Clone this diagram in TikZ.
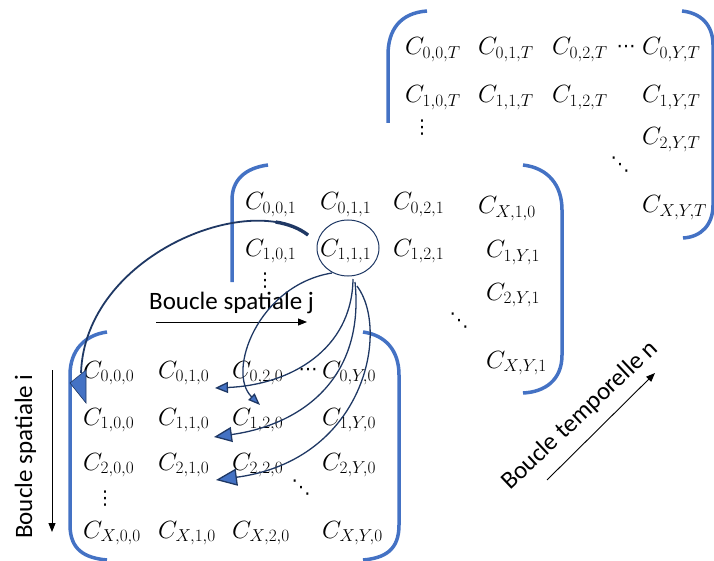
\documentclass[tikz,border=0pt]{standalone}
\usepackage{fontspec}
\newfontfamily\calfont{Carlito}
\newfontfamily\djv{DejaVu Sans}
\usetikzlibrary{arrows.meta,shapes.geometric}
\definecolor{bblue}{HTML}{4472C4}
\definecolor{navy}{HTML}{1F3864}
\begin{document}
\begin{tikzpicture}[x=1pt,y=-1pt,
  cell/.style={inner sep=0pt, anchor=base west, font=\fontsize{25}{30}\selectfont},
  dotsn/.style={inner sep=0pt, font=\djv\fontsize{19}{19}\selectfont},
  brk/.style={draw=bblue, line width=3.5pt},
  looplabel/.style={inner sep=0pt, anchor=base west, font=\calfont\fontsize{25}{30}\selectfont},
  blk/.style={draw=black, line width=0.9pt, -{Triangle[length=9pt,width=7pt]}},
  conn/.style={draw=navy, line width=1.3pt},
]
\useasboundingbox (0,0) rectangle (714,561);

% ---------- brackets ----------
\draw[brk] (427,11) .. controls (400,13) and (388,30) .. (388,55) -- (388,123);
\draw[brk] (682,11) .. controls (701,13) and (713,25) .. (713,45) -- (713,205) .. controls (713,225) and (701,237) .. (683,238);
\draw[brk] (268,165) .. controls (245,168) and (232,180) .. (232,200) -- (232,282);
\draw[brk] (523,165) .. controls (548,168) and (562,185) .. (562,210) -- (562,355) .. controls (562,380) and (545,392) .. (523,393);
\draw[brk] (107,332) .. controls (85,335) and (70,350) .. (70,375) -- (70,525) .. controls (70,550) and (85,558) .. (107,560);
\draw[brk] (363,332) .. controls (385,335) and (399,350) .. (399,375) -- (399,525) .. controls (399,550) and (385,558) .. (363,560);

% ---------- top matrix (T) ----------
\node[cell] (t00) at (405,55) {$C_{0,0,T}$};
\node[cell] (t01) at (478,55) {$C_{0,1,T}$};
\node[cell] (t02) at (552,55) {$C_{0,2,T}$};
\node[dotsn] (th) at (626,49) {⋯};
\node[cell] (t0Y) at (642,55) {$C_{0,Y,T}$};
\node[cell] (t10) at (405,103) {$C_{1,0,T}$};
\node[cell] (t11) at (478,103) {$C_{1,1,T}$};
\node[cell] (t12) at (552,103) {$C_{1,2,T}$};
\node[cell] (t1Y) at (642,103) {$C_{1,Y,T}$};
\node[dotsn] (tv) at (422,128) {⋮};
\node[cell] (t2Y) at (642,145) {$C_{2,Y,T}$};
\node[dotsn] (td) at (620,165) {⋱};
\node[cell] (tXY) at (642,213) {$C_{X,Y,T}$};

% ---------- middle matrix (1) ----------
\node[cell] (m00) at (245,210) {$C_{0,0,1}$};
\node[cell] (m01) at (320,210) {$C_{0,1,1}$};
\node[cell] (m02) at (393,210) {$C_{0,2,1}$};
\node[cell] (mX10) at (478,214) {$C_{X,1,0}$};
\node[cell] (m10) at (245,256) {$C_{1,0,1}$};
\node[cell] (m11) at (320,256) {$C_{1,1,1}$};
\node[cell] (m12) at (393,256) {$C_{1,2,1}$};
\node[cell] (m1Y) at (486,258) {$C_{1,Y,1}$};
\node[dotsn] (mv) at (265,281) {⋮};
\node[cell] (m2Y) at (486,300) {$C_{2,Y,1}$};
\node[dotsn] (md) at (459,321) {⋱};
\node[cell] (mXY) at (486,368) {$C_{X,Y,1}$};

% ---------- bottom matrix (0) ----------
\node[cell] (b00) at (83,378) {$C_{0,0,0}$};
\node[cell] (b01) at (158,378) {$C_{0,1,0}$};
\node[cell] (b02) at (232,378) {$C_{0,2,0}$};
\node[dotsn] (bh) at (308,372) {⋯};
\node[cell] (b0Y) at (322,378) {$C_{0,Y,0}$};
\node[cell] (b10) at (83,425) {$C_{1,0,0}$};
\node[cell] (b11) at (158,425) {$C_{1,1,0}$};
\node[cell] (b12) at (232,425) {$C_{1,2,0}$};
\node[cell] (b1Y) at (322,425) {$C_{1,Y,0}$};
\node[cell] (b20) at (83,470) {$C_{2,0,0}$};
\node[cell] (b21) at (158,470) {$C_{2,1,0}$};
\node[cell] (b22) at (232,470) {$C_{2,2,0}$};
\node[cell] (b2Y) at (322,470) {$C_{2,Y,0}$};
\node[dotsn] (bv) at (105,499) {⋮};
\node[dotsn] (bd) at (301,488) {⋱};
\node[cell] (bX0) at (83,538) {$C_{X,0,0}$};
\node[cell] (bX1) at (158,538) {$C_{X,1,0}$};
\node[cell] (bX2) at (232,538) {$C_{X,2,0}$};
\node[cell] (bXY) at (322,538) {$C_{X,Y,0}$};

% ---------- loop labels ----------
\node[looplabel] (lj) at (149,309) {Boucle spatiale j};
\coordinate (ja) at (156,322);
\coordinate (jb) at (307,322);
\draw[blk] (ja) -- (jb);

\node[looplabel, rotate=90] (li) at (32,539) {Boucle spatiale i};
\coordinate (ia) at (52,370);
\coordinate (ib) at (52,532);
\draw[blk] (ia) -- (ib);

\node[looplabel, rotate=43.4] (ln) at (510,491) {Boucle temporelle n};
\coordinate (na) at (547,480);
\coordinate (nb) at (655,373);
\draw[blk] (na) -- (nb);

% ---------- circle and dependency arrows ----------
\node[draw=navy, line width=1pt, ellipse, minimum width=62pt, minimum height=56pt, inner sep=0pt] (circ) at (348,248) {};

\coordinate (s0) at (308,235);
\coordinate (e0) at (81,373);
\draw[navy, line width=1.8pt] (s0) .. controls (250,190) and (85,255) .. (e0);
\draw[navy, line width=3.4pt] (s0) .. controls (299.3,228.25) and (288.2,224) .. (275.6,222);
\filldraw[fill=bblue, draw=navy, line width=0.6pt] (70,383) -- (86,370) -- (86,403) -- cycle;

\coordinate (sA) at (332,273);
\coordinate (eA) at (260,405);
\draw[conn, -{Triangle[length=12pt,width=9pt,fill=bblue]}] (sA) .. controls (258,285) and (226,372) .. (eA);

\coordinate (sB) at (353,279);
\coordinate (eB) at (215,388);
\draw[conn, -{Triangle[length=13pt,width=11pt,fill=bblue]}] (sB) .. controls (352,350) and (290,385) .. (eB);

\coordinate (sC) at (355,282);
\coordinate (eC) at (214,437);
\draw[conn, -{Triangle[length=18pt,width=15pt,fill=bblue]}] (sC) .. controls (365,380) and (300,425) .. (eC);

\coordinate (sD) at (357,286);
\coordinate (eD) at (216,480);
\draw[conn, -{Triangle[length=21pt,width=17pt,fill=bblue]}] (sD) .. controls (390,330) and (365,460) .. (eD);
\end{tikzpicture}
\end{document}
